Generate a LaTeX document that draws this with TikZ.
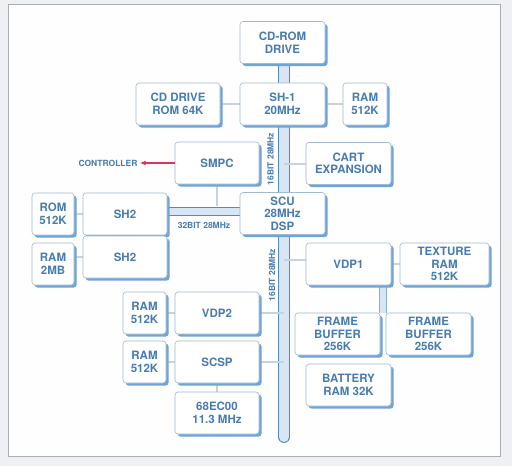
\documentclass[tikz,border=0pt]{standalone}
\usepackage{fontspec}
\newfontfamily\boxfont{TeX Gyre Heros}
\usepackage{tikz}
\usetikzlibrary{arrows.meta,positioning,calc,shadows,backgrounds}
\definecolor{labelBlue}{RGB}{72,124,176}
\definecolor{edgeBlue}{RGB}{160,184,208}
\definecolor{shadeBlue}{RGB}{110,164,214}
\definecolor{busFill}{RGB}{214,230,245}
\definecolor{busLine}{RGB}{86,138,190}
\definecolor{linkGray}{RGB}{200,210,220}
\definecolor{pageGray}{RGB}{238,240,243}
\definecolor{frameGray}{RGB}{170,175,182}
\definecolor{ctrlRed}{RGB}{222,52,96}
\tikzset{
  unit/.style={draw=edgeBlue, fill=white, rounded corners=3pt, line width=0.6pt,
    minimum width=85pt, minimum height=42pt, inner sep=1pt, align=center,
    text=labelBlue, font=\boxfont\bfseries\fontsize{11.5}{12.5}\selectfont,
    drop shadow={shadow xshift=2.6pt, shadow yshift=-2.6pt, fill=shadeBlue, opacity=1}},
  memunit/.style={unit, minimum width=43pt},
  bus/.style={draw=busLine, line width=0.9pt, double=busFill, double distance=10pt},
  minibus/.style={draw=busLine!70, line width=0.7pt, double=busFill, double distance=6pt},
  link/.style={draw=linkGray, line width=2pt},
  buslabel/.style={text=labelBlue, font=\boxfont\bfseries\fontsize{8.5}{9}\selectfont, inner sep=0pt}
}
\begin{document}
\begin{tikzpicture}[x=1pt,y=-1pt]
  \useasboundingbox (0,0) rectangle (512,466);
  % page and frame
  \begin{scope}[on background layer]
    \fill[pageGray] (0,0) rectangle (512,466);
    \draw[frameGray, fill=white!60!pageGray!20, line width=0.8pt] (8,4) rectangle (500,456);
  \end{scope}
  % CD block
  \node[unit] (cdrom) at (282.5,42.5) {CD-ROM\\DRIVE};
  \node[unit] (sh1) at (282.5,104) {SH-1\\20MHz};
  \node[unit, minimum width=84pt] (cdbios) at (178,104) {CD DRIVE\\ROM 64K};
  \node[memunit, minimum width=44pt] (cdram) at (365,104) {RAM\\512K};
  % system control
  \node[unit, minimum width=84pt] (smpc) at (217,163) {SMPC};
  \node[buslabel] (ctrl) at (108,163) {CONTROLLER};
  \node[unit] (cart) at (348.5,163.5) {CART\\EXPANSION};
  \node[unit] (scu) at (282.5,213.5) {SCU\\28MHz\\DSP};
  % CPUs
  \node[unit, minimum width=84pt] (sh2a) at (125,214) {SH2};
  \node[unit, minimum width=84pt] (sh2b) at (125,257) {SH2};
  \node[memunit, minimum width=42pt] (biosrom) at (53,214) {ROM\\512K};
  \node[memunit, minimum width=42pt] (workram) at (53,264) {RAM\\2MB};
  % video
  \node[unit] (vdp1) at (348.5,264) {VDP1};
  \node[unit, minimum width=89pt] (texram) at (444.5,264) {TEXTURE\\RAM\\512K};
  \node[unit] (fbufA) at (337.5,334) {FRAME\\BUFFER\\256K};
  \node[unit] (fbufB) at (428.5,334) {FRAME\\BUFFER\\256K};
  \node[unit] (battery) at (348.5,385) {BATTERY\\RAM 32K};
  \node[unit, minimum width=84pt] (vdp2) at (217,313) {VDP2};
  \node[memunit] (vdpram) at (144.5,313) {RAM\\512K};
  % sound
  \node[unit, minimum width=84pt] (scsp) at (217,362) {SCSP};
  \node[memunit] (sndram) at (144.5,362) {RAM\\512K};
  \node[unit, minimum width=84pt] (m68k) at (217,413) {68EC00\\11.3 MHz};
  % bus points
  \coordinate (busx) at (284,0);
  \coordinate (busend) at (284,437);
  \coordinate (fbgap) at (383,0);
  % buses and links
  \begin{scope}[on background layer]
    \draw[bus] (cdrom.south -| busx) -- (sh1.north -| busx);
    \draw[bus] (sh1.south -| busx) -- (scu.north -| busx);
    \draw[bus, line cap=round] (scu.south -| busx) -- (busend);
    \draw[bus, double distance=7pt] ($(sh2a.east)+(0,-2.5)$) -- ($(scu.west)+(0,-2)$);
    \draw[minibus] (vdp1.south -| fbgap) -- (fbufA.north -| fbgap);
    \draw[link] (cdbios.east) -- (sh1.west);
    \draw[link] (sh1.east) -- (cdram.west);
    \draw[link] (smpc.south) -- ++(0,22);
    \draw[link] (cart.west) -- (cart.west -| busx);
    \draw[link] (biosrom.east) -- (sh2a.west);
    \draw[link] (sh2b.west) -- (sh2b.west -| workram.east);
    \draw[link] ($(vdp1.west)+(0,-4)$) -- ($(vdp1.west -| busx)+(0,-4)$);
    \draw[link] (vdp1.east) -- (texram.west);
    \draw[link] (vdp2.east) -- (vdp2.east -| busx);
    \draw[link] (vdpram.east) -- (vdp2.west);
    \draw[link] (scsp.east) -- (scsp.east -| busx);
    \draw[link] (sndram.east) -- (scsp.west);
    \draw[link] (scsp.south) -- (m68k.north);
  \end{scope}
  \draw[ctrlRed, line width=1.3pt, -{Latex[length=6pt,width=5pt]}] (smpc.west) -- ($(ctrl.east)+(2,0)$);
  % bus labels
  \node[buslabel, rotate=90] (busA) at (270.5,159) {16BIT 28MHz};
  \node[buslabel, rotate=90] (busB) at (272,275) {16BIT 28MHz};
  \node[buslabel] (busC) at (204,225) {32BIT 28MHz};
\end{tikzpicture}
\end{document}
